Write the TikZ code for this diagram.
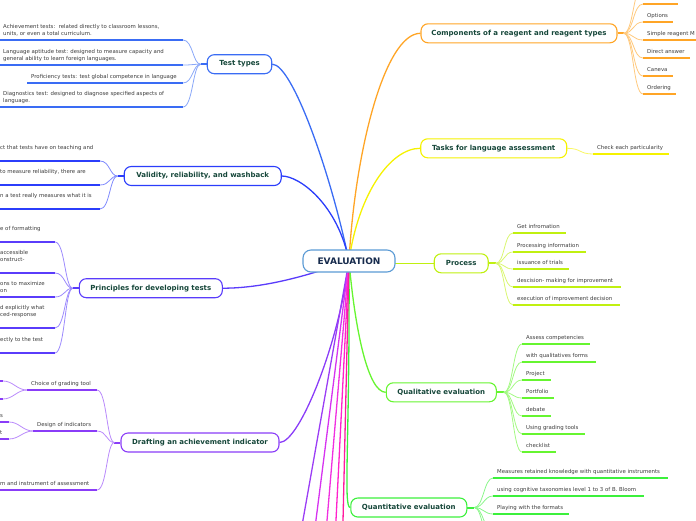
\documentclass[tikz,border=0pt]{standalone}
\usepackage{fontspec}
\setmainfont{DejaVu Sans}
\usetikzlibrary{backgrounds}
\definecolor{cTest}{HTML}{3A6CF4}
\definecolor{cVal}{HTML}{2B3DFB}
\definecolor{cPri}{HTML}{5A3CFB}
\definecolor{cDra}{HTML}{8A3CF8}
\definecolor{cCom}{HTML}{FFA526}
\definecolor{cTas}{HTML}{F5F200}
\definecolor{cPro}{HTML}{C0F010}
\definecolor{cQul}{HTML}{66F530}
\definecolor{cQnt}{HTML}{3CF03C}
\definecolor{cEva}{HTML}{5B9BD5}
\definecolor{mA}{HTML}{9B3DF5}
\definecolor{mB}{HTML}{D633F0}
\definecolor{mC}{HTML}{F030E0}
\definecolor{mD}{HTML}{FF22CC}
\definecolor{mE}{HTML}{FF1A9E}
\definecolor{hdText}{HTML}{16473A}
\definecolor{lfText}{HTML}{3C3C3C}
\definecolor{evText}{HTML}{172B4D}
\tikzset{
  hd/.style={draw=#1, line width=1.1pt, rounded corners=7pt, fill=white,
    font=\fontsize{7}{8}\selectfont\bfseries, text=hdText, minimum height=19pt, inner sep=0pt},
  leaf/.style={anchor=south west, inner xsep=4pt, inner ysep=3.5pt, text depth=1.3pt,
    font=\fontsize{5.4}{6.7}\selectfont, text=lfText, align=left},
  ul/.style={draw=#1, line width=2pt},
  cn/.style={draw=#1!60, line width=0.8pt},
  mc/.style={draw=#1, line width=1.3pt},
  stub/.style={draw=#1, line width=2pt},
}
\newcommand\mmleaf[6]{%
  \node[leaf] (#1) at (#3,#4) {#6};
  \coordinate (#1-w) at (#3,#4);
  \coordinate (#1-e) at (#3+#5,#4);
  \draw[ul=#2] (#1-w) -- (#1-e);}
\begin{document}
\begin{tikzpicture}[x=1pt,y=-1pt]
\useasboundingbox (0,0) rectangle (696,520);

% ---------- main nodes
\node[hd=cEva, font=\fontsize{9}{10}\selectfont\bfseries, text=evText,
  minimum width=92pt, minimum height=22pt, rounded corners=8pt] (eval) at (349,261) {EVALUATION};
\node[hd=cCom, minimum width=196pt] (comp) at (519,33.3) {Components of a reagent and reagent types};
\node[hd=cTas, minimum width=146pt] (tasks) at (493.7,148.3) {Tasks for language assessment};
\node[hd=cPro, minimum width=54pt] (proc) at (461.2,263.3) {Process};
\node[hd=cQul, minimum width=110pt] (qual) at (441.3,392.3) {Qualitative evaluation};
\node[hd=cQnt, minimum width=116pt] (quant) at (408.8,507.5) {Quantitative evaluation};
\node[hd=cTest, minimum width=64.5pt] (test) at (239.5,64.2) {Test types};
\node[hd=cVal, minimum width=157pt] (valid) at (202.7,176) {Validity, reliability, and washback};
\node[hd=cPri, minimum width=143pt] (princ) at (150.8,288.2) {Principles for developing tests};
\node[hd=cDra, minimum width=158pt] (draft) at (200,442.5) {Drafting an achievement indicator};

% ---------- leaves: Components
\mmleaf{c0}{cCom}{643}{4}{35}{}
\mmleaf{c1}{cCom}{643}{22}{30}{Options}
\mmleaf{c2}{cCom}{643}{40}{60}{Simple reagent M}
\mmleaf{c3}{cCom}{643}{58}{47}{Direct answer}
\mmleaf{c4}{cCom}{643}{76}{30}{Caneva}
\mmleaf{c5}{cCom}{643}{94}{33}{Ordering}
\coordinate (c6) at (643,-14);
% Tasks
\mmleaf{t1}{cTas}{593}{154}{76}{Check each particularity}
% Process
\mmleaf{p1}{cPro}{513}{233}{53}{Get infromation}
\mmleaf{p2}{cPro}{513}{252}{73}{Processing information}
\mmleaf{p3}{cPro}{513}{269}{56}{issuance of trials}
\mmleaf{p4}{cPro}{513}{287}{108}{descision- making for improvement}
\mmleaf{p5}{cPro}{513}{305}{107}{execution of improvement decision}
% Qualitative
\mmleaf{q1}{cQul}{522}{344}{68}{Assess competencies}
\mmleaf{q2}{cQul}{522}{362}{74}{with qualitatives forms}
\mmleaf{q3}{cQul}{522}{380}{29}{Project}
\mmleaf{q4}{cQul}{522}{398}{32}{Portfolio}
\mmleaf{q5}{cQul}{522}{416}{29}{debate}
\mmleaf{q6}{cQul}{522}{434}{63}{Using grading tools}
\mmleaf{q7}{cQul}{522}{452}{34}{checklist}
% Quantitative
\mmleaf{n1}{cQnt}{493}{478}{175}{Measures retained knowledge with quantitative instruments}
\mmleaf{n2}{cQnt}{493}{496}{151}{using cognitive taxonomies level 1 to 3 of B. Bloom}
\mmleaf{n3}{cQnt}{493}{514}{76}{Playing with the formats}
\coordinate (n4) at (493,532);
\coordinate (n5) at (493,550);
% Test types
\mmleaf{a1}{cTest}{-1}{40}{184}{Achievement tests:\ \ related directly to classroom lessons,\\units, or even a total curriculum.}
\mmleaf{a2}{cTest}{-1}{65}{184}{Language aptitude test: designed to measure capacity and\\general ability to learn foreign languages.}
\mmleaf{a3}{cTest}{27}{83}{156}{Proficiency tests: test global competence in language}
\mmleaf{a4}{cTest}{-1}{107}{184}{Diagnostics test: designed to diagnose specified aspects of\\language.}
% Validity
\mmleaf{v1}{cVal}{-4}{161}{104}{ct that tests have on teaching and\\\mbox{}}
\mmleaf{v2}{cVal}{-4}{185}{104}{to measure reliability, there are\\\mbox{}}
\mmleaf{v3}{cVal}{-4}{209}{104}{n a test really measures what it is\\\mbox{}}
% Principles
\mmleaf{r1}{cPri}{-4}{242}{59}{e of formatting\\\mbox{}}
\mmleaf{r2}{cPri}{-4}{273}{59}{accessible\\onstruct-\\\mbox{}}
\mmleaf{r3}{cPri}{-4}{297}{59}{ons to maximize\\on}
\mmleaf{r4}{cPri}{-4}{328}{59}{d explicitly what\\ced-response\\\mbox{}}
\mmleaf{r5}{cPri}{-4}{353}{59}{ectly to the test\\\mbox{}}
% Drafting
\mmleaf{d1}{cDra}{27}{390}{70}{Choice of grading tool}
\mmleaf{d2}{cDra}{33}{431}{64}{Design of indicators}
\mmleaf{d3}{cDra}{-4}{490}{101}{m and instrument of assessment}
\mmleaf{s1}{cDra}{-10}{381}{13}{}
\mmleaf{s2}{cDra}{-10}{399}{13}{}
\mmleaf{s3}{cDra}{-4}{422}{13}{s}
\mmleaf{s4}{cDra}{-4}{439}{13}{t}

\begin{pgfonlayer}{background}
% ---------- main connectors
\draw[mc=cTest] (eval.center) .. controls (330,170) and (292,64.2) .. (test.east);
\draw[mc=cVal] (eval.center) .. controls (338,205) and (300,176) .. (valid.east);
\draw[mc=cPri] (eval.center) .. controls (310,275) and (265,288.2) .. (princ.east);
\draw[mc=cDra] (eval.center) .. controls (340,340) and (300,442.5) .. (draft.east);
\draw[mc=cCom] (eval.center) .. controls (355,150) and (385,33.3) .. (comp.west);
\draw[mc=cTas] (eval.center) .. controls (358,195) and (390,148.3) .. (tasks.west);
\draw[mc=cPro] (eval.center |- proc.west) -- (proc.west);
\draw[mc=cQul] (eval.center) .. controls (355,330) and (368,392.3) .. (qual.west);
\draw[mc=cQnt] (eval.center) .. controls (350,440) and (343,507.5) .. (quant.west);
\coordinate (mm1) at (301.2,530);
\coordinate (mm2) at (314.7,530);
\coordinate (mm3) at (326.2,530);
\coordinate (mm4) at (335.5,530);
\coordinate (mm5) at (342.8,530);
\draw[mc=mA] (eval.center) -- (mm1);
\draw[mc=mB] (eval.center) -- (mm2);
\draw[mc=mC] (eval.center) -- (mm3);
\draw[mc=mD] (eval.center) -- (mm4);
\draw[mc=mE] (eval.center) -- (mm5);

% ---------- fans right
\draw[stub=cCom] (comp.east) -- ++(6,0) coordinate (comp-s);
\foreach \l in {c0-w,c1-w,c2-w,c3-w,c4-w,c5-w,c6}
  \draw[cn=cCom] (comp-s) .. controls +(10,0) and +(-10,0) .. (\l);
\draw[cn=cTas] (tasks.east) .. controls +(14,0) and +(-14,0) .. (t1-w);
\draw[stub=cPro] (proc.east) -- ++(7,0) coordinate (proc-s);
\foreach \l in {p1,p2,p3,p4,p5}
  \draw[cn=cPro] (proc-s) .. controls +(9,0) and +(-9,0) .. (\l-w);
\draw[stub=cQul] (qual.east) -- ++(7,0) coordinate (qual-s);
\foreach \l in {q1,q2,q3,q4,q5,q6,q7}
  \draw[cn=cQul] (qual-s) .. controls +(9,0) and +(-9,0) .. (\l-w);
\draw[stub=cQnt] (quant.east) -- ++(7,0) coordinate (quant-s);
\foreach \l in {n1-w,n2-w,n3-w,n4,n5}
  \draw[cn=cQnt] (quant-s) .. controls +(9,0) and +(-9,0) .. (\l);

% ---------- fans left
\draw[stub=cTest] (test.west) -- ++(-6,0) coordinate (test-s);
\foreach \l in {a1,a2,a3,a4}
  \draw[cn=cTest] (\l-e) .. controls +(10,0) and +(-8,0) .. (test-s);
\draw[stub=cVal] (valid.west) -- ++(-6,0) coordinate (valid-s);
\foreach \l in {v1,v2,v3}
  \draw[cn=cVal] (\l-e) .. controls +(10,0) and +(-8,0) .. (valid-s);
\draw[stub=cPri] (princ.west) -- ++(-6,0) coordinate (princ-s);
\foreach \l in {r1,r2,r3,r4,r5}
  \draw[cn=cPri] (\l-e) .. controls +(10,0) and +(-8,0) .. (princ-s);
\draw[stub=cDra] (draft.west) -- ++(-6,0) coordinate (draft-s);
\foreach \l in {d1,d2,d3}
  \draw[cn=cDra] (\l-e) .. controls +(10,0) and +(-8,0) .. (draft-s);
\foreach \l in {s1,s2}
  \draw[cn=cDra] (d1-w) .. controls +(-10,0) and +(10,0) .. (\l-e);
\foreach \l in {s3,s4}
  \draw[cn=cDra] (d2-w) .. controls +(-10,0) and +(10,0) .. (\l-e);
\end{pgfonlayer}
\end{tikzpicture}
\end{document}
